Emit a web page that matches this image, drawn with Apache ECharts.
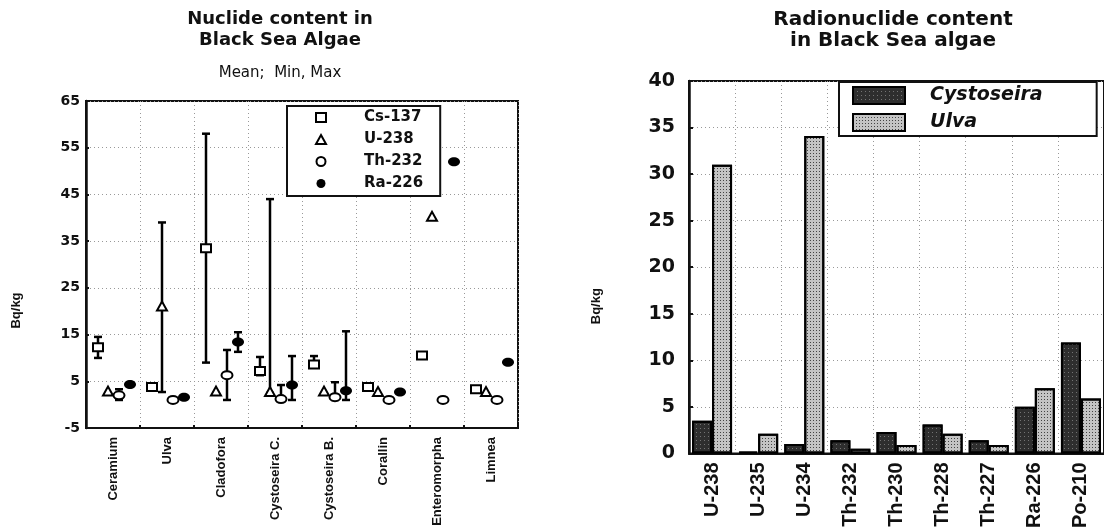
<!DOCTYPE html>
<html>
<head>
<meta charset="utf-8">
<script src="https://cdn.jsdelivr.net/npm/echarts@6/dist/echarts.min.js"></script>
<style>
html,body{margin:0;padding:0;background:#fff;}
#chart{width:1104px;height:531px;}
</style>
</head>
<body>
<div id="chart"></div>
<script>
// ---- Left chart data ----
const algae = ['Ceramium','Ulva','Cladofora','Cystoseira C.','Cystoseira B.','Corallin','Enteromorpha','Limnea'];
const nuclides = ['Cs-137','U-238','Th-232','Ra-226'];
const cs137Mean = [12.3, 3.8, 33.5, 7.2, 8.6, 3.8, 10.5, 3.3];
const cs137Min  = [10, null, 9, 6.3, 8, null, null, null];
const cs137Max  = [14.5, null, 58, 10.2, 10.4, null, null, null];
const u238Mean  = [2.8, 21, 2.8, 2.7, 2.8, 2.7, 40.2, 2.7];
const u238Min   = [null, 2.7, null, 2.5, null, null, null, null];
const u238Max   = [null, 39, null, 44, null, null, null, null];
const th232Mean = [2, 1, 6.3, 1.2, 1.6, 1, 1, 1];
const th232Min  = [1, null, 1, 1, 1, null, null, null];
const th232Max  = [3.3, null, 11.7, 4.2, 4.8, null, null, null];
const ra226Mean = [4.3, 1.6, 13.4, 4.2, 3, 2.7, 52, 9.1];
const ra226Min  = [null, null, 11.3, 1, 1, null, null, null];
const ra226Max  = [null, null, 15.5, 10.4, 15.7, null, null, null];
const leftTicks = ['-5','5','15','25','35','45','55','65'];

// ---- Right chart data ----
const isotopes = ['U-238','U-235','U-234','Th-232','Th-230','Th-228','Th-227','Ra-226','Po-210'];
const cystoseira = [3.5, 0.2, 1.0, 1.4, 2.3, 3.1, 1.4, 5.0, 11.9];
const ulva = [31.0, 2.1, 34.1, 0.5, 0.9, 2.1, 0.9, 7.0, 5.9];

const SANS = "'Liberation Sans', Arial, sans-serif";
const WIDE = "'DejaVu Sans', sans-serif";

function makeRender(offset, shape, minArr, maxArr) {
  return function (params, api) {
    const i = params.dataIndex;
    const idx = api.value(0);
    const p = api.coord([idx, api.value(1)]);
    const x = p[0] + offset, y = p[1];
    const children = [];
    if (minArr[i] != null && maxArr[i] != null) {
      const y1 = api.coord([idx, minArr[i]])[1];
      const y2 = api.coord([idx, maxArr[i]])[1];
      const st = {stroke: '#000', lineWidth: 2.5};
      children.push({type: 'line', shape: {x1: x, y1: y1, x2: x, y2: y2}, style: st});
      children.push({type: 'line', shape: {x1: x - 4, y1: y1, x2: x + 4, y2: y1}, style: st});
      children.push({type: 'line', shape: {x1: x - 4, y1: y2, x2: x + 4, y2: y2}, style: st});
    }
    const hollow = {fill: '#fff', stroke: '#000', lineWidth: 2};
    if (shape === 'square') {
      children.push({type: 'rect', shape: {x: x - 5, y: y - 4, width: 10, height: 8}, style: hollow});
    } else if (shape === 'triangle') {
      children.push({type: 'polygon', shape: {points: [[x - 5, y + 4], [x + 5, y + 4], [x, y - 5]]}, style: hollow});
    } else if (shape === 'circle') {
      children.push({type: 'ellipse', shape: {cx: x, cy: y, rx: 5.5, ry: 4}, style: hollow});
    } else {
      children.push({type: 'ellipse', shape: {cx: x, cy: y, rx: 6, ry: 4.5}, style: {fill: '#000'}});
    }
    return {type: 'group', children: children};
  };
}

function seriesData(meanArr) {
  return meanArr.map((v, i) => [i, v]);
}

const chart = echarts.init(document.getElementById('chart'));
const option = {
  backgroundColor: '#fff',
  animation: false,
  title: [
    {
      text: 'Nuclide content in\nBlack Sea Algae',
      subtext: 'Mean;  Min, Max',
      left: 280, top: 9, textAlign: 'center', padding: 0, itemGap: 14,
      textStyle: {fontFamily: WIDE, fontWeight: 'bold', fontSize: 18, lineHeight: 21, color: '#111'},
      subtextStyle: {fontFamily: WIDE, fontSize: 15, color: '#111', lineHeight: 16}
    },
    {
      text: 'Radionuclide content\nin Black Sea algae',
      left: 893, top: 9, textAlign: 'center', padding: 0,
      textStyle: {fontFamily: WIDE, fontWeight: 'bold', fontSize: 20, lineHeight: 21, color: '#111'}
    }
  ],
  legend: [
    {
      left: 287, top: 106, orient: 'vertical',
      padding: [4, 17, 5, 28], itemGap: 7, itemWidth: 10, itemHeight: 9,
      borderColor: '#111', borderWidth: 2, backgroundColor: '#fff',
      textStyle: {fontFamily: WIDE, fontWeight: 'bold', fontSize: 15, lineHeight: 15, color: '#111', padding: [0, 0, 0, 33]},
      data: [
        {name: 'Cs-137', icon: 'rect', itemStyle: {color: '#fff', borderColor: '#000', borderWidth: 2}},
        {name: 'U-238', icon: 'triangle', itemStyle: {color: '#fff', borderColor: '#000', borderWidth: 2}},
        {name: 'Th-232', icon: 'circle', itemStyle: {color: '#fff', borderColor: '#000', borderWidth: 2}},
        {name: 'Ra-226', icon: 'circle', itemStyle: {color: '#000', borderColor: '#000', borderWidth: 0}}
      ]
    },
    {
      left: 839, top: 82, orient: 'vertical',
      padding: [4, 54, 4, 13], itemGap: 8, itemWidth: 52, itemHeight: 17,
      borderColor: '#111', borderWidth: 2, backgroundColor: '#fff',
      textStyle: {fontFamily: WIDE, fontWeight: 'bold', fontStyle: 'italic', fontSize: 19, lineHeight: 19, color: '#111', padding: [0, 0, 0, 20]},
      data: [{name: 'Cystoseira', icon: 'rect'}, {name: 'Ulva', icon: 'rect'}]
    }
  ],
  grid: [
    {left: 86, top: 101, width: 432, height: 327, show: true, borderColor: '#111', borderWidth: 2, containLabel: false},
    {left: 689, top: 81, width: 421, height: 378, show: true, borderColor: '#111', borderWidth: 2, containLabel: false}
  ],
  xAxis: [
    {
      type: 'category', gridIndex: 0, data: algae, boundaryGap: true,
      axisLine: {show: true, onZero: false, lineStyle: {color: '#111', width: 2}},
      axisTick: {show: true, inside: true, length: 3, lineStyle: {color: '#111', width: 2}},
      axisLabel: {rotate: 90, interval: 0, margin: 9, fontFamily: SANS, fontWeight: 'bold', fontSize: 13, color: '#111', padding: [0, 0, 10, 0]},
      splitLine: {show: true, interval: 0, lineStyle: {color: '#999', type: [1, 3], width: 1}}
    },
    {
      type: 'category', gridIndex: 1, data: isotopes, boundaryGap: true,
      axisLine: {show: true, onZero: false, lineStyle: {color: '#111', width: 2}},
      axisTick: {show: false},
      axisLabel: {rotate: 90, interval: 0, margin: 9, fontFamily: SANS, fontWeight: 'bold', fontSize: 20, color: '#111', padding: [0, 0, 14, 0]},
      splitLine: {show: true, interval: 0, lineStyle: {color: '#999', type: [1, 3], width: 1}}
    }
  ],
  yAxis: [
    {
      type: 'value', gridIndex: 0, min: -5, max: 65, interval: 10,
      name: 'Bq/kg', nameLocation: 'middle', nameGap: 63,
      nameTextStyle: {fontFamily: SANS, fontWeight: 'bold', fontSize: 13, color: '#111', padding: [0, 92, 0, 0]},
      axisLine: {show: true, lineStyle: {color: '#111', width: 2.5}},
      axisTick: {show: true, inside: true, length: 3, lineStyle: {color: '#111', width: 2}},
      axisLabel: {margin: 6, fontFamily: WIDE, fontWeight: 'bold', fontSize: 14, color: '#111',
        formatter: function (v) { return leftTicks[leftTicks.indexOf(String(v))] || String(v); }},
      splitLine: {show: true, lineStyle: {color: '#999', type: [1, 3], width: 1}}
    },
    {
      type: 'value', gridIndex: 1, min: 0, max: 40, interval: 5,
      name: 'Bq/kg', nameLocation: 'middle', nameGap: 86,
      nameTextStyle: {fontFamily: SANS, fontWeight: 'bold', fontSize: 13, color: '#111', padding: [0, 78, 0, 0]},
      axisLine: {show: true, lineStyle: {color: '#111', width: 2.5}},
      axisTick: {show: true, inside: true, length: 4, lineStyle: {color: '#111', width: 2}},
      axisLabel: {margin: 14, fontFamily: WIDE, fontWeight: 'bold', fontSize: 19, color: '#111'},
      splitLine: {show: true, lineStyle: {color: '#999', type: [1, 3], width: 1}}
    }
  ],
  series: [
    {name: 'Cs-137', type: 'custom', xAxisIndex: 0, yAxisIndex: 0, data: seriesData(cs137Mean),
      encode: {x: 0, y: 1}, itemStyle: {color: '#000'}, renderItem: makeRender(-15, 'square', cs137Min, cs137Max), z: 3},
    {name: 'U-238', type: 'custom', xAxisIndex: 0, yAxisIndex: 0, data: seriesData(u238Mean),
      encode: {x: 0, y: 1}, itemStyle: {color: '#000'}, renderItem: makeRender(-5, 'triangle', u238Min, u238Max), z: 3},
    {name: 'Th-232', type: 'custom', xAxisIndex: 0, yAxisIndex: 0, data: seriesData(th232Mean),
      encode: {x: 0, y: 1}, itemStyle: {color: '#000'}, renderItem: makeRender(6, 'circle', th232Min, th232Max), z: 3},
    {name: 'Ra-226', type: 'custom', xAxisIndex: 0, yAxisIndex: 0, data: seriesData(ra226Mean),
      encode: {x: 0, y: 1}, itemStyle: {color: '#000'}, renderItem: makeRender(17, 'filled', ra226Min, ra226Max), z: 3},
    {name: 'Cystoseira', type: 'bar', xAxisIndex: 1, yAxisIndex: 1, data: cystoseira,
      barWidth: 20, barGap: '0%',
      itemStyle: {color: '#2e2e2e', borderColor: '#000', borderWidth: 2,
        decal: {symbol: 'rect', symbolSize: 1, color: 'rgba(200,200,200,0.45)', dashArrayX: [1, 3], dashArrayY: [1, 3]}}},
    {name: 'Ulva', type: 'bar', xAxisIndex: 1, yAxisIndex: 1, data: ulva,
      barWidth: 20, barGap: '0%',
      itemStyle: {color: '#c4c4c4', borderColor: '#000', borderWidth: 2,
        decal: {symbol: 'rect', symbolSize: 1, color: '#444', dashArrayX: [1, 2], dashArrayY: [1, 2]}}}
  ]
};
chart.setOption(option);
</script>
</body>
</html>
